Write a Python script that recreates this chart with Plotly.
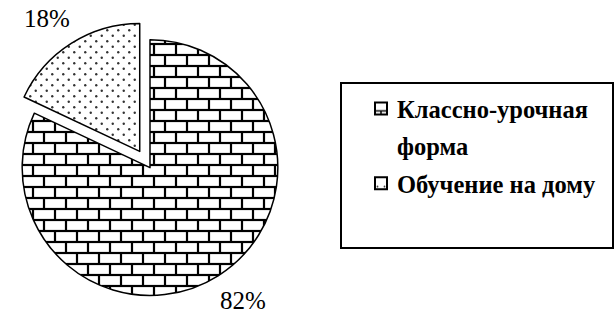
import math
import plotly.graph_objects as go

# ---- data ----
categories = ["Классно-урочная<br>форма", "Обучение на дому"]
shares = [82, 18]
pulls = [0, 0.15]

W, H = 615, 315

# pie box (pixels) -> paper domain
box_x = (3, 297)
box_y = (20.5, 314.7)          # from top
dom_x = [box_x[0] / W, box_x[1] / W]
dom_y = [1 - box_y[1] / H, 1 - box_y[0] / H]

fig = go.Figure()
fig.add_trace(go.Pie(
    labels=categories,
    values=shares,
    pull=pulls,
    sort=False,
    direction="clockwise",
    rotation=0,
    textinfo="none",
    automargin=False,
    marker=dict(
        colors=["white", "white"],
        line=dict(color="black", width=1.5),
        pattern=dict(shape=["+", "."], fgcolor="black", bgcolor="white",
                     size=[11, 8], solidity=[0.2, 0.15]),
    ),
    domain=dict(x=dom_x, y=dom_y),
    hoverinfo="skip",
))

# percent labels placed outside each slice along its mid-angle (computed from the data)
cx = (box_x[0] + box_x[1]) / 2
cy = (box_y[0] + box_y[1]) / 2
R = min(box_x[1] - box_x[0], box_y[1] - box_y[0]) / (2 + 2 * max(pulls))
gap, half_w, half_h = 21, 25, 8
total = sum(shares)
cum = 0
annotations = []
for v, p in zip(shares, pulls):
    th = 2 * math.pi * (cum + v / 2) / total
    cum += v
    dx, dy = math.sin(th), -math.cos(th)
    sx, sy = cx + p * R * dx, cy + p * R * dy
    px = sx + (R + gap) * dx + dx * half_w
    py = sy + (R + gap) * dy + dy * half_h
    annotations.append(dict(
        x=px / W, y=1 - py / H, xref="paper", yref="paper",
        text=f"{round(100 * v / total)}%", showarrow=False,
        xanchor="center", yanchor="middle",
        font=dict(family="Liberation Serif", size=25, color="black"),
    ))

fig.update_layout(
    width=W, height=H,
    margin=dict(l=0, r=0, t=0, b=0, pad=0, autoexpand=False),
    paper_bgcolor="white",
    plot_bgcolor="white",
    showlegend=True,
    legend=dict(
        x=357 / W, y=1 - 86 / H, xanchor="left", yanchor="top",
        font=dict(family="Liberation Serif", size=24.5, color="black", weight="bold"),
        bgcolor="rgba(0,0,0,0)", borderwidth=0,
        valign="top", itemwidth=30,
    ),
    annotations=annotations,
    shapes=[dict(type="rect", xref="paper", yref="paper",
                 x0=341 / W, x1=613 / W, y0=1 - 248 / H, y1=1 - 83 / H,
                 line=dict(color="black", width=2), fillcolor="rgba(0,0,0,0)")],
)

post_script = """
document.body.style.margin = '0';
var gd = document.getElementById('{plot_id}');
var NS = 'http://www.w3.org/2000/svg';
function mk(tag, attrs, parent){
  var e = document.createElementNS(NS, tag);
  for (var k in attrs) e.setAttribute(k, attrs[k]);
  if (parent) parent.appendChild(e);
  return e;
}
function ln(p, x1, y1, x2, y2, sw){
  mk('line', {x1:x1, y1:y1, x2:x2, y2:y2, stroke:'black', 'stroke-width':sw}, p);
}
function makeBrick(defs, id, w, h, sw){
  var p = mk('pattern', {id:id, patternUnits:'userSpaceOnUse', width:w, height:h}, defs);
  mk('rect', {x:0, y:0, width:w, height:h, fill:'white'}, p);
  ln(p, 0, 0, w, 0, sw); ln(p, 0, h/2, w, h/2, sw); ln(p, 0, h, w, h, sw);
  ln(p, 0, 0, 0, h/2, sw); ln(p, w, 0, w, h/2, sw); ln(p, w/2, h/2, w/2, h, sw);
}
function makeDots(defs, id, w, h, r){
  var p = mk('pattern', {id:id, patternUnits:'userSpaceOnUse', width:w, height:h}, defs);
  mk('rect', {x:0, y:0, width:w, height:h, fill:'white'}, p);
  mk('circle', {cx:w/4, cy:h/4, r:r, fill:'#333'}, p);
  mk('circle', {cx:3*w/4, cy:3*h/4, r:r, fill:'#333'}, p);
}
function makeLegBrick(defs, id){
  var p = mk('pattern', {id:id, patternUnits:'userSpaceOnUse', x:-6, y:-6, width:12, height:12}, defs);
  mk('rect', {x:0, y:0, width:12, height:12, fill:'white'}, p);
  ln(p, 0, 8.5, 12, 8.5, 1.5); ln(p, 6, 8.5, 6, 12, 1.5);
}
function makeLegDots(defs, id){
  var p = mk('pattern', {id:id, patternUnits:'userSpaceOnUse', x:-6, y:-6, width:12, height:12}, defs);
  mk('rect', {x:0, y:0, width:12, height:12, fill:'white'}, p);
  mk('circle', {cx:2.5, cy:9.5, r:0.9, fill:'#333'}, p);
  mk('circle', {cx:9.5, cy:9.5, r:0.9, fill:'#333'}, p);
}
function shiftT(el, ddx, ddy){
  var tr = el.getAttribute('transform') || '';
  var m = /translate\\(\\s*([-\\d.e]+)[ ,]*([-\\d.e]*)\\s*\\)/.exec(tr);
  var x = m ? parseFloat(m[1]) : 0, y = (m && m[2] !== '') ? parseFloat(m[2]) : 0;
  var rest = m ? tr.replace(m[0], '') : tr;
  el.setAttribute('transform', 'translate(' + (x + ddx) + ',' + (y + ddy) + ')' + rest);
}
function apply(){
  var svg = gd.querySelector('svg.main-svg');
  if (!svg) return;
  var defs = svg.querySelector('defs');
  if (!document.getElementById('brickpat')){
    makeBrick(defs, 'brickpat', 22, 22, 2.2);
    makeDots(defs, 'dotpat', 11, 11, 1.2);
    makeLegBrick(defs, 'brickleg');
    makeLegDots(defs, 'dotleg');
  }
  var ids = ['brickpat', 'dotpat'];
  var slices = gd.querySelectorAll('g.slice path.surface');
  for (var i = 0; i < slices.length; i++) slices[i].style.fill = 'url(#' + ids[i % 2] + ')';
  var legIds = ['brickleg', 'dotleg'];
  var traces = gd.querySelectorAll('g.legend g.traces');
  for (var k = 0; k < traces.length; k++){
    var t = traces[k];
    var pie = t.querySelector('path.legendpie');
    if (pie){
      pie.style.fill = 'url(#' + legIds[k % 2] + ')';
      pie.style.stroke = 'black'; pie.style.strokeWidth = '2px';
    }
    if (t.getAttribute('data-adj')) continue;
    t.setAttribute('data-adj', '1');
    if (pie) shiftT(pie, 4, 0);
    var lines = t.querySelectorAll('text.legendtext tspan.line');
    for (var q = 1; q < lines.length; q++) lines[q].setAttribute('dy', '1.5em');
    if (k > 0) shiftT(t, 0, 8 * k);
  }
}
apply();
if (gd.on) gd.on('plotly_afterplot', apply);
setTimeout(apply, 50);
"""

fig.write_html("out.html", post_script=post_script, config={"displayModeBar": False})
